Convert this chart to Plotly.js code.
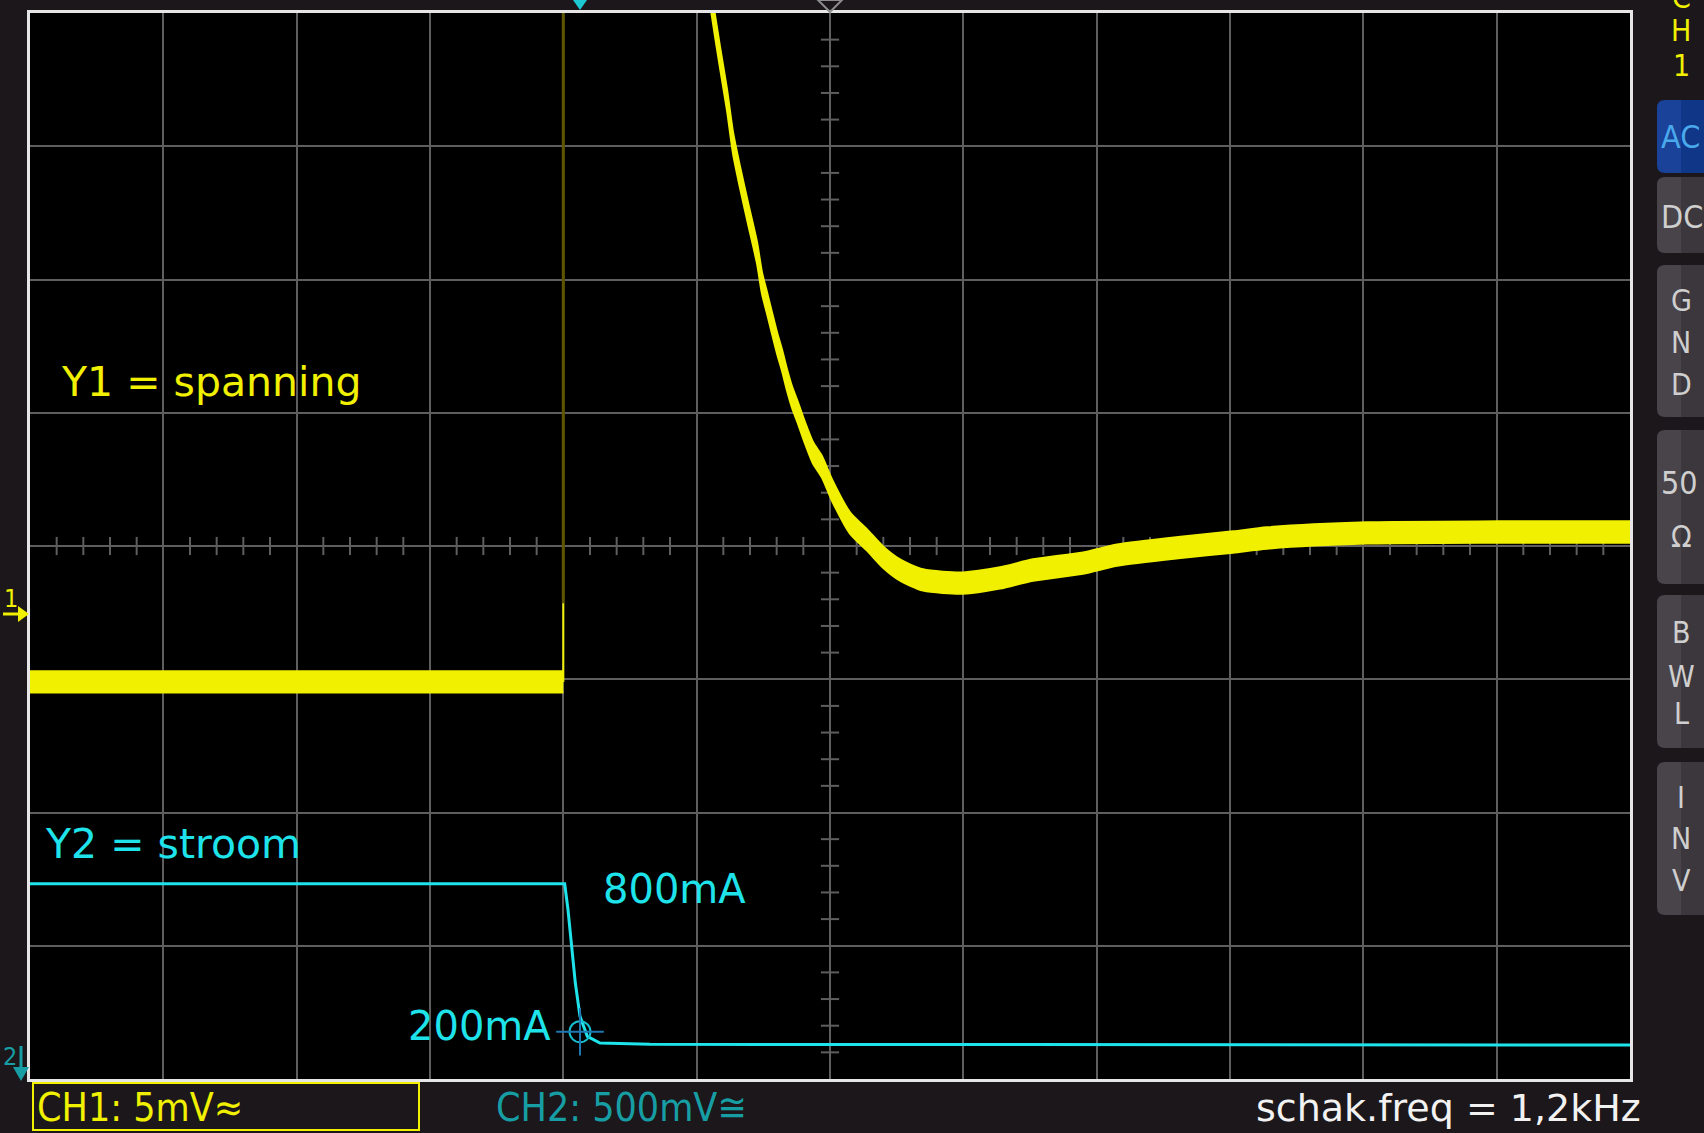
<!DOCTYPE html>
<html><head><meta charset="utf-8">
<script src="https://cdn.plot.ly/plotly-3.0.1.min.js"></script>
<style>html,body{margin:0;padding:0;background:#1b171a;overflow:hidden}</style>
</head><body><div id="chart" style="width:1704px;height:1133px"></div>
<script>
// ---- Data (screen divisions: x 0..12, y -4..4) ----
// CH1 (Y1 = spanning, yellow)
const ch1PreX = [0, 4.0];
const ch1PreY = [-1.02, -1.02];
const ch1EdgeX = [4.0, 4.0];
const ch1EdgeBrightY = [-1.02, -0.43];
const ch1EdgeDimY = [-0.43, 4.1];
const ch1DecayX = [5.10, 5.123, 5.175, 5.228, 5.273, 5.325, 5.385, 5.453, 5.490, 5.528, 5.565, 5.603, 5.640, 5.678, 5.715, 5.760, 5.813, 5.873, 5.940, 6.015, 6.150, 6.278, 6.398, 6.525, 6.698, 6.998, 7.275, 7.523, 7.898, 8.153, 8.648, 9.023, 9.278, 10.028, 11.025, 12.0];
const ch1DecayY = [4.15, 3.998, 3.668, 3.345, 3.023, 2.768, 2.498, 2.198, 1.973, 1.823, 1.673, 1.523, 1.395, 1.245, 1.118, 0.998, 0.848, 0.698, 0.593, 0.420, 0.173, 0.045, -0.083, -0.180, -0.255, -0.278, -0.240, -0.180, -0.128, -0.068, -0.008, 0.030, 0.060, 0.098, 0.105, 0.105];
const ch1NoiseHalf = 0.08;
// CH2 (Y2 = stroom, cyan)
const ch2X = [0, 4.01, 4.035, 4.065, 4.09, 4.125, 4.18, 4.275, 4.65, 12];
const ch2Y = [-2.535, -2.535, -2.73, -3.01, -3.28, -3.53, -3.68, -3.73, -3.74, -3.745];
// cursor on CH2
const cursorX = [4.125];
const cursorY = [-3.645];
// texts
const labelY1 = "Y1 = spanning";
const labelY2 = "Y2 = stroom";
const label800 = "800mA";
const label200 = "200mA";
const ch1Info = "CH1: 5mV≈";
const ch2Info = "CH2: 500mV≅";
const freqInfo = "schak.freq = 1,2kHz";
const panelLetters = [["C",-2],["H",30],["1",66],["G",301],["N",343],["D",384],["Ω",536],["B",632],["W",676],["L",713],["I",797],["N",838],["V",880]];
const panelLeftTexts = [["AC",137,"#4aa8ec"],["DC",217,"#cfcfcf"],["50",483,"#cfcfcf"]];
const buttons = [[100,173,"#1a4298","#0f3687"],[177,253,"#48444a","#3b373c"],[265,417,"#48444a","#3b373c"],[430,584,"#48444a","#3b373c"],[595,748,"#48444a","#3b373c"],[762,915,"#48444a","#3b373c"]];

// ---- helpers ----
const YEL = "#f0f000", CYA = "#1ee3ea", TEAL = "#179ea4", GRID = "#5e5e5e";
const px = X => (X - 30) / 1600;
const py = Y => (1079 - Y) / 1066;

const traces = [];
// center-line minor ticks
const tvX = [], tvY = [], thX = [], thY = [];
for (let k = -20; k <= 20; k++) { if (k % 5 !== 0) { tvX.push(6); tvY.push(k * 0.2); } }
for (let k = 0; k <= 60; k++) { if (k % 5 !== 0) { thX.push(k * 0.2); thY.push(0); } }
traces.push({x: tvX, y: tvY, mode: 'markers', marker: {symbol: 'line-ew', size: 13, line: {color: GRID, width: 2}}, hoverinfo: 'skip'});
traces.push({x: thX, y: thY, mode: 'markers', marker: {symbol: 'line-ns', size: 13, line: {color: GRID, width: 2}}, hoverinfo: 'skip'});

// CH1 dim trigger edge
traces.push({x: ch1EdgeX, y: ch1EdgeDimY, mode: 'lines', line: {color: '#5e5600', width: 3}});
traces.push({x: ch1EdgeX, y: ch1EdgeBrightY, mode: 'lines', line: {color: YEL, width: 2}});
// CH1 bands
function band(xs, ys) {
  traces.push({x: xs, y: ys.map(v => v + ch1NoiseHalf), mode: 'lines', line: {color: YEL, width: 2, shape: 'spline', smoothing: 0.7}});
  traces.push({x: xs, y: ys.map(v => v - ch1NoiseHalf), mode: 'lines', line: {color: YEL, width: 2, shape: 'spline', smoothing: 0.7}, fill: 'tonexty', fillcolor: YEL});
}
band(ch1PreX, ch1PreY);
band(ch1DecayX, ch1DecayY);
// CH2
traces.push({x: ch2X, y: ch2Y, mode: 'lines', line: {color: CYA, width: 3}});
// cursor
traces.push({x: cursorX, y: cursorY, mode: 'markers', marker: {symbol: 'circle-open', size: 21, line: {color: CYA, width: 2}}});
traces.push({x: cursorX, y: cursorY, mode: 'markers', marker: {symbol: 'cross-thin-open', size: 34, line: {color: CYA, width: 2}}});

const shapes = [];
const annotations = [];
const ann = (o) => annotations.push(Object.assign({showarrow: false, xanchor: 'left', yanchor: 'middle'}, o));

// labels in plot
ann({xref: 'x', yref: 'y', x: 0.22, y: 1.23, text: labelY1, font: {family: 'DejaVu Sans', size: 41, color: YEL}});
ann({xref: 'x', yref: 'y', x: 0.10, y: -2.235, text: labelY2, font: {family: 'DejaVu Sans', size: 41, color: CYA}});
ann({xref: 'x', yref: 'y', x: 4.28, y: -2.575, text: label800, font: {family: 'DejaVu Sans', size: 40, color: CYA}});
ann({xref: 'x', yref: 'y', x: 3.92, y: -3.605, xanchor: 'right', text: label200, font: {family: 'DejaVu Sans', size: 40, color: CYA}});

// bottom bar
shapes.push({type: 'rect', xref: 'paper', yref: 'paper', x0: px(33), x1: px(419), y0: py(1130), y1: py(1083), line: {color: YEL, width: 2}});
ann({xref: 'paper', yref: 'paper', x: px(35), y: py(1107), text: ch1Info, font: {family: 'DejaVu Sans Condensed', size: 39, color: YEL}});
ann({xref: 'paper', yref: 'paper', x: px(494), y: py(1107), text: ch2Info, font: {family: 'DejaVu Sans Condensed', size: 39, color: TEAL}});
ann({xref: 'paper', yref: 'paper', x: px(1643), y: py(1108), xanchor: 'right', text: freqInfo, font: {family: 'DejaVu Sans', size: 38, color: '#f2f2f2'}});

// right panel buttons
buttons.forEach(([y0, y1, cl, cr]) => {
  shapes.push({type: 'rect', xref: 'paper', yref: 'paper', x0: px(1681), x1: px(1730), y0: py(y1), y1: py(y0), fillcolor: cr, line: {width: 0}});
  const r = 8;
  const path = `M ${px(1681)},${py(y0)} L ${px(1657 + r)},${py(y0)} Q ${px(1657)},${py(y0)} ${px(1657)},${py(y0 + r)} L ${px(1657)},${py(y1 - r)} Q ${px(1657)},${py(y1)} ${px(1657 + r)},${py(y1)} L ${px(1681)},${py(y1)} Z`;
  shapes.push({type: 'path', xref: 'paper', yref: 'paper', path: path, fillcolor: cl, line: {width: 0}});
});
panelLetters.forEach(([t, Y], i) => {
  const col = i < 3 ? YEL : '#cfcfcf';
  ann({xref: 'paper', yref: 'paper', x: px(1681), y: py(Y), xanchor: 'center', text: t, font: {family: 'DejaVu Sans Condensed', size: 30, color: col}});
});
panelLeftTexts.forEach(([t, Y, c]) => {
  ann({xref: 'paper', yref: 'paper', x: px(1659), y: py(Y), text: t, font: {family: 'DejaVu Sans Condensed', size: 32, color: c}});
});

// left channel markers
ann({xref: 'paper', yref: 'paper', x: px(11), y: py(598), xanchor: 'center', text: '1', font: {family: 'DejaVu Sans Condensed', size: 25, color: YEL}});
shapes.push({type: 'line', xref: 'paper', yref: 'paper', x0: px(3), x1: px(22), y0: py(614), y1: py(614), line: {color: YEL, width: 3}});
shapes.push({type: 'path', xref: 'paper', yref: 'paper', path: `M ${px(18)},${py(606)} L ${px(29)},${py(614)} L ${px(18)},${py(622)} Z`, fillcolor: YEL, line: {width: 0}});
ann({xref: 'paper', yref: 'paper', x: px(10), y: py(1056), xanchor: 'center', text: '2', font: {family: 'DejaVu Sans Condensed', size: 25, color: TEAL}});
shapes.push({type: 'line', xref: 'paper', yref: 'paper', x0: px(21), x1: px(21), y0: py(1046), y1: py(1072), line: {color: TEAL, width: 3}});
shapes.push({type: 'path', xref: 'paper', yref: 'paper', path: `M ${px(13)},${py(1067)} L ${px(21)},${py(1081)} L ${px(29)},${py(1067)} Z`, fillcolor: TEAL, line: {width: 0}});

// top markers
shapes.push({type: 'path', xref: 'paper', yref: 'paper', path: `M ${px(573)},${py(0)} L ${px(587)},${py(0)} L ${px(580)},${py(10)} Z`, fillcolor: '#1ec8d0', line: {width: 0}});
shapes.push({type: 'path', xref: 'paper', yref: 'paper', path: `M ${px(818)},${py(0)} L ${px(842)},${py(0)} L ${px(830)},${py(12)} Z`, fillcolor: 'rgba(0,0,0,0)', line: {color: '#8c8c8c', width: 2}});

const axisCommon = {showgrid: true, gridcolor: GRID, gridwidth: 2, zeroline: false, showticklabels: false, ticks: '', showline: true, linecolor: '#e6e6e6', linewidth: 3, mirror: true, fixedrange: true};
const layout = {
  width: 1704, height: 1133,
  margin: {l: 30, r: 74, t: 13, b: 54, pad: 0},
  paper_bgcolor: '#1b171a', plot_bgcolor: '#000000',
  showlegend: false,
  xaxis: Object.assign({range: [0, 12], dtick: 1, tick0: 0}, axisCommon),
  yaxis: Object.assign({range: [-4, 4], dtick: 1, tick0: 0}, axisCommon),
  shapes: shapes, annotations: annotations
};
Plotly.newPlot('chart', traces, layout, {staticPlot: true, displayModeBar: false});
</script></body></html>
